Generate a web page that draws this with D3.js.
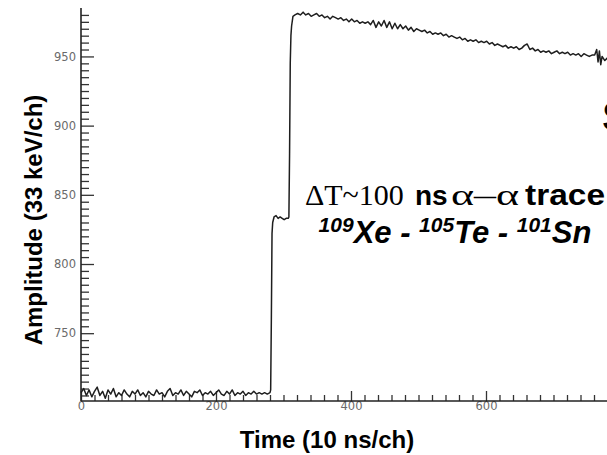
<!DOCTYPE html>
<html>
<head>
<meta charset="utf-8">
<script src="https://cdn.jsdelivr.net/npm/d3@7"></script>
<style>
  html, body { margin: 0; padding: 0; background: #fff; }
  svg { display: block; }
</style>
</head>
<body>
<svg id="chart" width="607" height="455"></svg>
<script>
// Digitizer trace: channel number (10 ns per channel) and amplitude (33 keV per channel)
const channels = [
  0, 4, 8, 12, 16, 20, 24, 28, 32, 36, 40, 44, 48, 52, 56, 60, 64, 68, 72, 76,
  80, 84, 88, 92, 96, 100, 104, 108, 112, 116, 120, 124, 128, 132, 136, 140, 144, 148, 152, 156,
  160, 164, 168, 172, 176, 180, 184, 188, 192, 196, 200, 204, 208, 212, 216, 220, 224, 228, 232, 236,
  240, 244, 248, 252, 256, 260, 264, 268, 272, 276, 280,
  281, 282, 283, 284, 286, 289, 292, 295, 298, 301, 304, 307, 308, 309, 310, 311, 312, 314, 317,
  321, 325, 329, 333, 337, 341, 345, 349, 353, 357, 361, 365, 369, 373, 377, 381, 385, 389, 393, 397,
  401, 405, 409, 413, 417, 421, 425, 429, 433, 437, 441, 445, 449, 453, 457, 461, 465, 469, 473, 477,
  481, 485, 489, 493, 497, 501, 505, 509, 513, 517, 521, 525, 529, 533, 537, 541, 545, 549, 553, 557,
  561, 565, 569, 573, 577, 581, 585, 589, 593, 597, 601, 605, 609, 613, 617, 621, 625, 629, 633, 637,
  641, 645, 649, 653, 657, 661, 665, 669, 673, 677, 681, 685, 689, 693, 697, 701, 705, 709, 713, 717,
  721, 725, 729, 733, 737, 741, 745, 749, 753, 757, 761, 764, 766, 768, 770, 772, 776, 780, 784, 788
];
const amplitude = [
  707, 710, 705, 709, 704, 708, 711, 705, 708, 703, 709, 706, 710, 704, 707, 705, 709, 706, 704, 708,
  706, 709, 705, 707, 704, 708, 706, 705, 709, 706, 707, 704, 708, 710, 705, 707, 706, 709, 705, 708,
  706, 704, 708, 707, 709, 705, 707, 706, 708, 705, 707, 709, 706, 705, 708, 706, 709, 705, 707, 706,
  708, 705, 707, 706, 708, 706, 707, 706, 707, 706, 707,
  709, 760, 822, 830, 834, 835, 833, 834, 833, 832, 833, 833, 834, 880, 945, 965, 972, 979, 980,
  981, 980, 982, 980, 981, 979, 980, 981, 979, 980, 978, 979, 977, 979, 978, 977, 978, 976, 977, 975,
  977, 975, 976, 974, 975, 974, 975, 973, 976, 971, 975, 972, 976, 971, 975, 970, 974, 970, 973, 970,
  972, 969, 971, 968, 970, 969, 968, 969, 967, 968, 966, 967, 966, 967, 965, 966, 964, 965, 964, 963,
  964, 962, 963, 961, 962, 961, 962, 960, 961, 960, 961, 959, 960, 958, 959, 958, 957, 958, 956, 957,
  956, 957, 955, 956, 958, 959, 955, 956, 954, 955, 953, 954, 953, 954, 952, 953, 954, 952, 953, 952,
  953, 951, 952, 951, 952, 950, 952, 951, 950, 951, 951, 955, 946, 954, 944, 950, 947, 949, 948, 949
];

// Axis ticks
const xMajorTicks = [0, 200, 400, 600];
const xMinorTicks = d3.range(20, 800, 20).filter(v => v % 200 !== 0);
const yMajorTicks = [750, 800, 850, 900, 950];
const yMinorTicks = d3.range(705, 985, 5).filter(v => v % 50 !== 0);

const svg = d3.select("#chart");

const x = d3.scaleLinear().domain([0, 800]).range([81, 621]);
const y = d3.scaleLinear().domain([701, 985]).range([401, 8]);

const tickColor = "#333";
const labelColor = "#6a6a6a";

// Y axis: ticks point into the plot, labels on the left
const yMinor = svg.append("g").attr("transform", "translate(81,0)")
  .call(d3.axisLeft(y).tickValues(yMinorTicks).tickSize(-8).tickFormat(""));
const yMajor = svg.append("g").attr("transform", "translate(81,0)")
  .call(d3.axisLeft(y).tickValues(yMajorTicks).tickSize(-13).tickPadding(5).tickFormat(d3.format("d")));

// X axis: ticks point up into the plot, labels below
const xMinor = svg.append("g").attr("transform", "translate(0,401)")
  .call(d3.axisBottom(x).tickValues(xMinorTicks).tickSize(-6).tickFormat(""));
const xMajor = svg.append("g").attr("transform", "translate(0,401)")
  .call(d3.axisBottom(x).tickValues(xMajorTicks).tickSize(-10).tickPadding(1).tickFormat(d3.format("d")));

[yMinor, yMajor, xMinor, xMajor].forEach(g => {
  g.select(".domain").remove();
  g.selectAll(".tick line").attr("stroke", tickColor).attr("stroke-width", 1.3);
  g.selectAll(".tick text")
    .attr("fill", labelColor)
    .style("font-family", "'DejaVu Sans', Verdana, sans-serif")
    .style("font-size", "11.5px");
});

// Axis lines
svg.append("line").attr("x1", 81).attr("x2", 81).attr("y1", y.range()[1]).attr("y2", 401)
  .attr("stroke", "#222").attr("stroke-width", 1.6);
svg.append("line").attr("x1", 81).attr("x2", 607).attr("y1", 401).attr("y2", 401)
  .attr("stroke", "#222").attr("stroke-width", 1.6);

// Trace
const trace = channels.map((c, i) => [c, amplitude[i]]);
svg.append("path")
  .datum(trace)
  .attr("fill", "none")
  .attr("stroke", "#1e1e1e")
  .attr("stroke-width", 1.5)
  .attr("stroke-linejoin", "round")
  .attr("d", d3.line().x(d => x(d[0])).y(d => y(d[1])).curve(d3.curveLinear));

// Axis titles
const titleFont = "'Liberation Sans', Arial, sans-serif";
svg.append("text")
  .attr("transform", "translate(42,220) rotate(-90)")
  .attr("text-anchor", "middle")
  .style("font-family", titleFont).style("font-weight", "bold").style("font-size", "24px")
  .text("Amplitude (33 keV/ch)");
svg.append("text")
  .attr("x", 327).attr("y", 448)
  .attr("text-anchor", "middle")
  .style("font-family", titleFont).style("font-weight", "bold").style("font-size", "24px")
  .text("Time (10 ns/ch)");

// Annotation, line 1
const serif = "'Liberation Serif', 'Times New Roman', serif";
const l1 = svg.append("text").attr("y", 205);
l1.append("tspan").attr("x", 305).style("font-family", serif).style("font-size", "30px").text("ΔT~100");
l1.append("tspan").attr("x", 415).style("font-family", titleFont).style("font-weight", "bold").style("font-size", "28px").text("ns");
l1.append("tspan").attr("x", 451).attr("textLength", 68).attr("lengthAdjust", "spacingAndGlyphs")
  .style("font-family", serif).style("font-size", "30px").text("α–α");
l1.append("tspan").attr("x", 525).attr("textLength", 80).attr("lengthAdjust", "spacingAndGlyphs")
  .style("font-family", titleFont).style("font-weight", "bold").style("font-size", "30px").text("trace");

// Annotation, line 2: decay chain with mass numbers as superscripts
const chain = [["109", "Xe - "], ["105", "Te - "], ["101", "Sn"]];
const l2 = svg.append("text").attr("x", 455).attr("y", 243)
  .attr("text-anchor", "middle")
  .style("font-family", titleFont).style("font-weight", "bold").style("font-style", "italic");
chain.forEach(([mass, el]) => {
  l2.append("tspan").attr("dy", -11).style("font-size", "21px").text(mass);
  l2.append("tspan").attr("dy", 11).style("font-size", "31px").text(el);
});

// Large heading letter at the right edge
svg.append("text").attr("x", 602).attr("y", 131)
  .style("font-family", titleFont).style("font-weight", "bold").style("font-size", "43px")
  .text("S");
</script>
</body>
</html>
